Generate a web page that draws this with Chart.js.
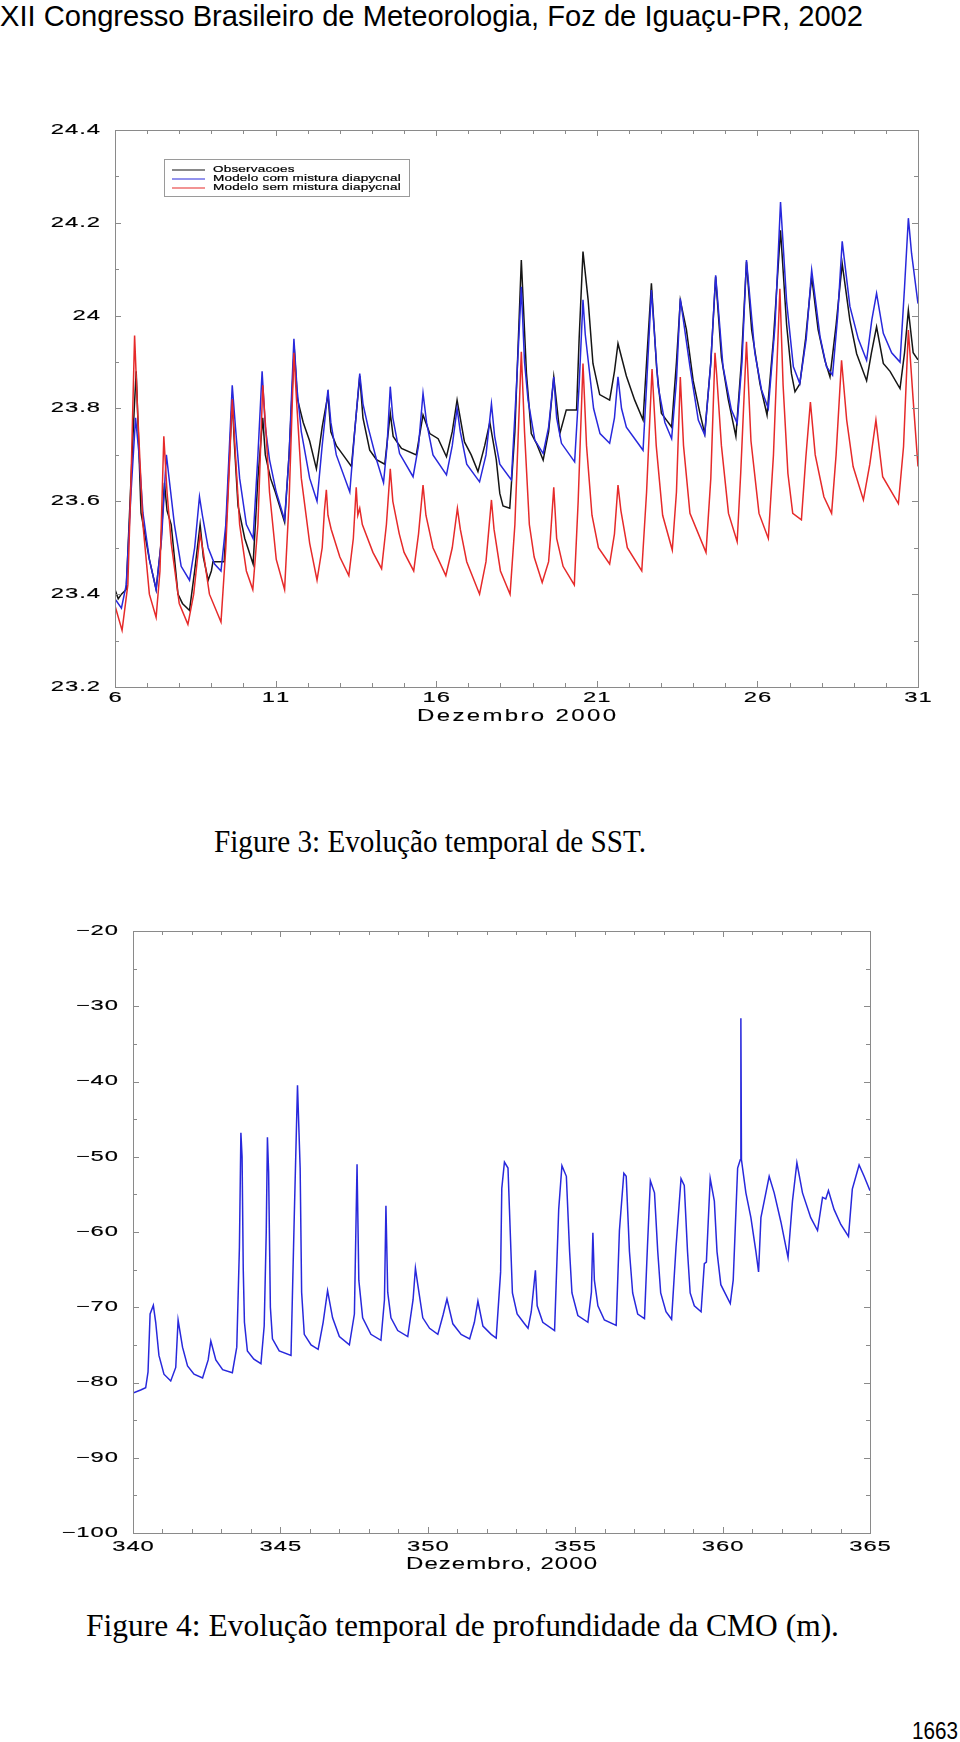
<!DOCTYPE html>
<html>
<head>
<meta charset="utf-8">
<script src="https://cdn.jsdelivr.net/npm/chart.js@4.4.0/dist/chart.umd.min.js"></script>
<style>
html, body { margin: 0; padding: 0; background: #fff; }
body { width: 960px; height: 1742px; position: relative; overflow: hidden; }
.txt { position: absolute; white-space: nowrap; line-height: 1; transform-origin: 0 0; color: #000; }
.sans { font-family: "Liberation Sans", Arial, sans-serif; }
.serif { font-family: "Liberation Serif", "Times New Roman", serif; }
canvas { position: absolute; left: 0; }
</style>
</head>
<body>
<div class="txt sans" style="left:0;top:2px;font-size:29px" data-w="863">XII Congresso Brasileiro de Meteorologia, Foz de Iguaçu-PR, 2002</div>
<canvas id="sstChart" width="960" height="650" style="top:100px"></canvas>
<div class="txt serif" style="left:214px;top:826px;font-size:31px" data-w="432">Figure 3: Evolução temporal de SST.</div>
<canvas id="cmoChart" width="960" height="700" style="top:900px"></canvas>
<div class="txt serif" style="left:86px;top:1610px;font-size:31px" data-w="753">Figure 4: Evolução temporal de profundidade da CMO (m).</div>
<div class="txt sans" style="left:912px;top:1719px;font-size:24px" data-w="46">1663</div>

<script>
// ---- Figure 3: SST (days of December 2000) ----
const sstLabels = ['Observacoes', 'Modelo com mistura diapycnal', 'Modelo sem mistura diapycnal'];

const obsDays = [
  6.00, 6.10, 6.20, 6.35, 6.50, 6.60, 6.66, 6.72, 6.81, 7.07,
  7.28, 7.42, 7.54, 7.62, 7.75, 7.96, 8.10, 8.32, 8.48, 8.65,
  8.75, 8.90, 9.00, 9.05, 9.40, 9.50, 9.65, 9.72, 9.83, 10.04,
  10.30, 10.45, 10.60, 10.68, 10.84, 10.99, 11.28, 11.42, 11.58, 11.68,
  11.86, 12.06, 12.27, 12.45, 12.63, 12.72, 12.89, 13.10, 13.36, 13.50,
  13.62, 13.72, 13.93, 14.14, 14.40, 14.57, 14.66, 14.92, 15.38, 15.59,
  15.80, 16.06, 16.32, 16.50, 16.65, 16.88, 17.09, 17.30, 17.51, 17.67,
  17.87, 17.98, 18.08, 18.29, 18.45, 18.65, 18.81, 18.96, 19.12, 19.33,
  19.50, 19.66, 19.85, 20.05, 20.37, 20.45, 20.57, 20.73, 20.88, 21.09,
  21.40, 21.55, 21.66, 21.92, 22.18, 22.44, 22.55, 22.70, 22.86, 23.01,
  23.17, 23.33, 23.48, 23.60, 23.79, 24.00, 24.21, 24.36, 24.55, 24.70,
  24.88, 25.09, 25.33, 25.50, 25.66, 25.82, 26.08, 26.30, 26.50, 26.72,
  26.91, 27.06, 27.17, 27.32, 27.50, 27.69, 27.89, 28.10, 28.26, 28.45,
  28.64, 28.88, 29.09, 29.40, 29.55, 29.71, 29.92, 30.13, 30.44, 30.58,
  30.70, 30.85, 31.00
];
const obsSST = [
  23.41, 23.39, 23.40, 23.41, 23.65, 23.80, 23.88, 23.76, 23.575, 23.475,
  23.41, 23.50, 23.64, 23.58, 23.55, 23.40, 23.38, 23.365, 23.45, 23.55,
  23.48, 23.43, 23.45, 23.47, 23.47, 23.60, 23.82, 23.72, 23.59, 23.52,
  23.465, 23.65, 23.78, 23.70, 23.65, 23.62, 23.555, 23.70, 23.93, 23.82,
  23.77, 23.73, 23.67, 23.76, 23.83, 23.75, 23.72, 23.70, 23.675, 23.78,
  23.87, 23.78, 23.71, 23.69, 23.68, 23.79, 23.74, 23.714, 23.70, 23.786,
  23.746, 23.735, 23.696, 23.75, 23.818, 23.728, 23.70, 23.664, 23.72, 23.77,
  23.69, 23.617, 23.59, 23.585, 23.75, 24.12, 23.876, 23.746, 23.725, 23.689,
  23.75, 23.868, 23.746, 23.797, 23.797, 23.95, 24.138, 24.034, 23.897, 23.83,
  23.818, 23.88, 23.94, 23.87, 23.818, 23.775, 23.90, 24.07, 23.89, 23.79,
  23.775, 23.76, 23.90, 24.033, 23.97, 23.86, 23.79, 23.746, 23.90, 24.084,
  23.91, 23.82, 23.74, 23.90, 24.116, 23.97, 23.853, 23.786, 23.95, 24.184,
  23.98, 23.875, 23.836, 23.853, 23.95, 24.084, 23.97, 23.904, 23.868, 23.98,
  24.112, 23.99, 23.918, 23.86, 23.92, 23.976, 23.897, 23.88, 23.843, 23.92,
  24.012, 23.92, 23.905
];

const comDays = [
  6.00, 6.20, 6.35, 6.50, 6.64, 6.75, 6.87, 7.07, 7.28, 7.45,
  7.60, 7.70, 7.85, 8.06, 8.32, 8.48, 8.63, 8.72, 8.90, 9.10,
  9.30, 9.45, 9.65, 9.75, 9.88, 10.09, 10.30, 10.45, 10.58, 10.68,
  10.81, 11.02, 11.28, 11.42, 11.57, 11.67, 11.80, 12.06, 12.29, 12.45,
  12.63, 12.72, 12.89, 13.31, 13.45, 13.62, 13.72, 13.88, 14.14, 14.36,
  14.47, 14.57, 14.65, 14.86, 15.28, 15.45, 15.59, 15.70, 15.90, 16.32,
  16.50, 16.65, 16.75, 16.95, 17.35, 17.55, 17.72, 17.82, 17.98, 18.34,
  18.50, 18.65, 18.75, 18.86, 19.07, 19.33, 19.50, 19.66, 19.75, 19.90,
  20.31, 20.45, 20.57, 20.64, 20.90, 21.10, 21.40, 21.55, 21.66, 21.77,
  21.92, 22.44, 22.55, 22.70, 22.91, 23.12, 23.33, 23.48, 23.60, 23.90,
  24.16, 24.36, 24.55, 24.70, 24.93, 25.19, 25.37, 25.52, 25.66, 25.92,
  26.13, 26.34, 26.55, 26.72, 26.91, 27.12, 27.32, 27.52, 27.69, 27.95,
  28.15, 28.34, 28.50, 28.64, 28.88, 29.14, 29.40, 29.56, 29.71, 29.92,
  30.18, 30.44, 30.58, 30.70, 30.80, 31.00
];
const comSST = [
  23.39, 23.37, 23.42, 23.62, 23.78, 23.70, 23.575, 23.475, 23.41, 23.52,
  23.70, 23.64, 23.55, 23.46, 23.43, 23.50, 23.61, 23.57, 23.50, 23.465,
  23.45, 23.55, 23.85, 23.76, 23.65, 23.55, 23.52, 23.70, 23.88, 23.76,
  23.69, 23.62, 23.56, 23.70, 23.95, 23.84, 23.75, 23.65, 23.60, 23.72,
  23.84, 23.77, 23.70, 23.62, 23.74, 23.875, 23.81, 23.76, 23.69, 23.64,
  23.72, 23.847, 23.78, 23.703, 23.653, 23.72, 23.833, 23.77, 23.70, 23.657,
  23.72, 23.80, 23.75, 23.68, 23.642, 23.70, 23.81, 23.74, 23.68, 23.646,
  23.85, 24.062, 23.90, 23.818, 23.732, 23.703, 23.76, 23.868, 23.78, 23.725,
  23.685, 23.85, 24.034, 23.96, 23.80, 23.746, 23.725, 23.78, 23.868, 23.80,
  23.76, 23.71, 23.85, 24.055, 23.847, 23.77, 23.735, 23.86, 24.037, 23.89,
  23.775, 23.743, 23.90, 24.087, 23.89, 23.797, 23.768, 23.90, 24.12, 23.92,
  23.84, 23.80, 23.98, 24.245, 24.03, 23.89, 23.854, 23.95, 24.098, 23.955,
  23.89, 23.872, 24.00, 24.16, 24.02, 23.95, 23.904, 23.99, 24.048, 23.962,
  23.92, 23.90, 24.06, 24.21, 24.134, 24.026
];

const semDays = [
  6.00, 6.22, 6.40, 6.50, 6.61, 6.70, 6.87, 7.07, 7.28, 7.40,
  7.52, 7.62, 7.75, 8.00, 8.27, 8.45, 8.65, 8.75, 8.94, 9.30,
  9.45, 9.65, 9.75, 9.88, 10.09, 10.29, 10.45, 10.60, 10.70, 10.81,
  11.02, 11.28, 11.42, 11.57, 11.65, 11.80, 12.06, 12.29, 12.45, 12.52,
  12.58, 12.63, 12.73, 13.00, 13.28, 13.42, 13.51, 13.56, 13.62, 13.70,
  14.03, 14.30, 14.45, 14.57, 14.65, 14.85, 15.00, 15.30, 15.45, 15.59,
  15.68, 15.90, 16.30, 16.50, 16.66, 16.75, 16.95, 17.35, 17.55, 17.72,
  17.80, 18.00, 18.30, 18.45, 18.65, 18.75, 18.90, 19.05, 19.30, 19.50,
  19.55, 19.66, 19.75, 19.95, 20.30, 20.42, 20.57, 20.68, 20.85, 21.05,
  21.40, 21.55, 21.66, 21.75, 21.95, 22.40, 22.55, 22.72, 22.85, 23.05,
  23.35, 23.48, 23.60, 23.70, 23.90, 24.40, 24.55, 24.68, 24.73, 24.88,
  25.10, 25.37, 25.48, 25.66, 25.80, 26.05, 26.34, 26.50, 26.70, 26.80,
  26.95, 27.10, 27.37, 27.51, 27.65, 27.80, 28.07, 28.31, 28.45, 28.62,
  28.78, 28.98, 29.30, 29.50, 29.69, 29.90, 30.39, 30.55, 30.70, 30.85,
  31.00
];
const semSST = [
  23.375, 23.322, 23.42, 23.65, 23.957, 23.80, 23.55, 23.40, 23.35, 23.45,
  23.74, 23.62, 23.51, 23.38, 23.335, 23.40, 23.53, 23.49, 23.40, 23.34,
  23.50, 23.82, 23.70, 23.55, 23.45, 23.41, 23.55, 23.85, 23.75, 23.62,
  23.475, 23.41, 23.60, 23.92, 23.82, 23.65, 23.51, 23.43, 23.50, 23.58,
  23.625, 23.57, 23.54, 23.48, 23.44, 23.52, 23.63, 23.57, 23.585, 23.55,
  23.49, 23.455, 23.55, 23.67, 23.60, 23.53, 23.49, 23.45, 23.53, 23.635,
  23.57, 23.50, 23.44, 23.50, 23.585, 23.54, 23.47, 23.40, 23.47, 23.603,
  23.54, 23.45, 23.40, 23.55, 23.922, 23.75, 23.55, 23.48, 23.425, 23.47,
  23.516, 23.63, 23.52, 23.46, 23.42, 23.60, 23.897, 23.72, 23.57, 23.50,
  23.465, 23.53, 23.635, 23.58, 23.50, 23.45, 23.62, 23.885, 23.72, 23.57,
  23.495, 23.62, 23.868, 23.72, 23.574, 23.49, 23.65, 23.92, 23.875, 23.72,
  23.574, 23.513, 23.66, 23.944, 23.73, 23.574, 23.52, 23.70, 24.058, 23.85,
  23.66, 23.574, 23.56, 23.696, 23.814, 23.70, 23.61, 23.574, 23.70, 23.904,
  23.775, 23.675, 23.603, 23.68, 23.775, 23.653, 23.595, 23.718, 23.969, 23.818,
  23.675
];

const sstYTicks = [23.2, 23.4, 23.6, 23.8, 24, 24.2, 24.4];
const sstYTickLabels = ['23.2', '23.4', '23.6', '23.8', '24', '24.2', '24.4'];
const sstXTicks = [6, 11, 16, 21, 26, 31];
const sstXTickLabels = ['6', '11', '16', '21', '26', '31'];

// ---- Figure 4: mixed layer depth (day of year 2000) ----
const cmoDays = [
  340.00, 340.26, 340.43, 340.51, 340.58, 340.69, 340.77, 340.88, 341.05, 341.28,
  341.45, 341.53, 341.68, 341.85, 342.07, 342.36, 342.55, 342.64, 342.81, 343.04,
  343.37, 343.52, 343.61, 343.66, 343.70, 343.74, 343.78, 343.88, 344.10, 344.34,
  344.45, 344.52, 344.56, 344.60, 344.66, 344.73, 344.96, 345.36, 345.47, 345.58,
  345.67, 345.72, 345.81, 346.04, 346.28, 346.45, 346.60, 346.77, 347.00, 347.34,
  347.51, 347.60, 347.66, 347.79, 348.07, 348.41, 348.53, 348.58, 348.64, 348.75,
  348.98, 349.32, 349.50, 349.58, 349.66, 349.83, 350.06, 350.34, 350.52, 350.65,
  350.85, 351.13, 351.42, 351.58, 351.70, 351.87, 352.15, 352.32, 352.47, 352.51,
  352.60, 352.72, 352.77, 352.87, 353.03, 353.28, 353.40, 353.51, 353.65, 353.71,
  353.90, 354.30, 354.44, 354.55, 354.70, 354.81, 354.89, 355.09, 355.43, 355.55,
  355.60, 355.65, 355.77, 355.99, 356.39, 356.50, 356.65, 356.73, 356.84, 356.95,
  357.12, 357.35, 357.45, 357.55, 357.69, 357.80, 357.90, 358.08, 358.27, 358.42,
  358.59, 358.70, 358.81, 358.90, 359.04, 359.27, 359.38, 359.45, 359.58, 359.72,
  359.81, 359.94, 360.26, 360.36, 360.51, 360.60, 360.62, 360.64, 360.79, 360.96,
  361.13, 361.22, 361.30, 361.58, 361.75, 361.98, 362.22, 362.37, 362.52, 362.71,
  362.99, 363.22, 363.39, 363.50, 363.59, 363.78, 364.01, 364.27, 364.40, 364.63,
  364.80, 365.00
];
const cmoDepth = [
  -81.4, -81.0, -80.7, -78.6, -70.9, -69.75, -72.0, -76.4, -78.9, -79.8,
  -78.0, -71.7, -75.3, -77.8, -78.9, -79.4, -77.0, -74.5, -77.0, -78.3,
  -78.7, -75.3, -62.0, -46.8, -50.0, -65.0, -72.0, -75.8, -76.9, -77.5,
  -72.5, -60.0, -47.4, -52.0, -70.0, -74.2, -75.8, -76.4, -58.0, -40.5,
  -51.5, -68.0, -73.6, -75.0, -75.6, -72.0, -67.8, -71.4, -73.9, -75.0,
  -70.9, -51.0, -66.4, -71.4, -73.6, -74.4, -69.0, -56.5, -68.0, -71.4,
  -73.1, -73.9, -69.0, -64.8, -67.0, -71.4, -72.8, -73.6, -71.0, -68.9,
  -72.2, -73.6, -74.2, -72.0, -69.2, -72.5, -73.6, -74.1, -65.3, -54.2,
  -50.7, -51.5, -57.0, -68.1, -70.9, -72.2, -72.8, -70.6, -65.1, -69.8,
  -72.0, -73.1, -57.0, -51.2, -52.6, -62.6, -68.1, -71.1, -72.0, -68.0,
  -60.1, -66.4, -69.8, -71.7, -72.4, -59.8, -52.2, -52.6, -62.6, -68.1,
  -70.9, -71.5, -62.0, -53.2, -54.8, -62.6, -68.1, -70.6, -71.6, -62.0,
  -52.9, -53.8, -62.6, -68.1, -69.8, -70.6, -64.2, -64.0, -52.9, -55.9,
  -62.6, -67.0, -69.5, -66.4, -51.5, -50.4, -31.6, -50.4, -54.8, -58.1,
  -62.6, -65.3, -58.1, -52.6, -54.8, -58.7, -63.4, -55.9, -50.8, -54.8,
  -58.1, -59.8, -55.4, -55.6, -54.5, -57.0, -59.0, -60.6, -54.3, -51.1,
  -52.6, -54.5
];

const cmoYTicks = [-100, -90, -80, -70, -60, -50, -40, -30, -20];
const cmoYTickLabels = ['\u2212100', '\u221290', '\u221280', '\u221270', '\u221260', '\u221250', '\u221240', '\u221230', '\u221220'];
const cmoXTicks = [340, 345, 350, 355, 360, 365];
const cmoXTickLabels = ['340', '345', '350', '355', '360', '365'];

function toPoints(xs, ys) {
  const n = Math.min(xs.length, ys.length);
  const pts = [];
  for (let i = 0; i < n; i++) pts.push({ x: xs[i], y: ys[i] });
  return pts;
}

function range(from, to, step) {
  const out = [];
  for (let v = from; v <= to + step / 1000; v += step) out.push(Math.round(v * 1000) / 1000);
  return out;
}

// stretched plot-package style lettering
function drawStretched(ctx, text, x, y, o) {
  ctx.save();
  ctx.font = o.size + 'px "Liberation Sans", Arial, sans-serif';
  ctx.textBaseline = 'middle';
  ctx.textAlign = 'left';
  ctx.fillStyle = '#000';
  ctx.strokeStyle = '#000';
  ctx.lineWidth = o.bold || 0;
  const chars = Array.from(text);
  let glyphs = 0;
  chars.forEach(ch => { glyphs += ctx.measureText(ch).width * o.sx; });
  const gap = o.width ? (o.width - glyphs) / Math.max(1, chars.length - 1) : (o.gap || 0);
  const w = glyphs + gap * (chars.length - 1);
  let cx = o.align === 'right' ? x - w : o.align === 'center' ? x - w / 2 : x;
  chars.forEach(ch => {
    ctx.save();
    ctx.translate(cx, y);
    ctx.scale(o.sx, 1);
    ctx.fillText(ch, 0, 0);
    if (o.bold) ctx.strokeText(ch, 0, 0);
    ctx.restore();
    cx += ctx.measureText(ch).width * o.sx + gap;
  });
  ctx.restore();
}

// frame, inward ticks, tick labels, axis title and legend
function framePlugin(cfg) {
  return {
    id: 'frame_' + cfg.name,
    afterDatasetsDraw(chart) {
      const { ctx, chartArea: a, scales } = chart;
      const xs = scales.x, ys = scales.y;
      ctx.save();
      ctx.strokeStyle = '#8a8a8a';
      ctx.lineWidth = 1;
      ctx.strokeRect(Math.round(a.left) + 0.5, Math.round(a.top) + 0.5,
        Math.round(a.right - a.left), Math.round(a.bottom - a.top));
      ctx.beginPath();
      const tickX = (vals, len) => vals.forEach(v => {
        const px = Math.round(xs.getPixelForValue(v)) + 0.5;
        ctx.moveTo(px, a.bottom); ctx.lineTo(px, a.bottom - len);
        ctx.moveTo(px, a.top); ctx.lineTo(px, a.top + len);
      });
      const tickY = (vals, len) => vals.forEach(v => {
        const py = Math.round(ys.getPixelForValue(v)) + 0.5;
        ctx.moveTo(a.left, py); ctx.lineTo(a.left + len, py);
        ctx.moveTo(a.right, py); ctx.lineTo(a.right - len, py);
      });
      tickX(cfg.xMinor, 4); tickX(cfg.xTicks, 6);
      tickY(cfg.yMinor, 4); tickY(cfg.yTicks, 6);
      ctx.stroke();
      ctx.restore();

      const lab = { size: 14, sx: 1.7, gap: 1, bold: 0.15 };
      cfg.yTicks.forEach((v, i) => drawStretched(ctx, cfg.yLabels[i], a.left - 15, ys.getPixelForValue(v),
        Object.assign({ align: 'right' }, lab)));
      cfg.xTicks.forEach((v, i) => drawStretched(ctx, cfg.xLabels[i], xs.getPixelForValue(v), a.bottom + cfg.xLabelOffset,
        Object.assign({ align: 'center' }, lab)));
      drawStretched(ctx, cfg.xTitle, (a.left + a.right) / 2, a.bottom + cfg.xTitleOffset,
        { size: 16, sx: 1.5, width: cfg.xTitleWidth, align: 'center', bold: 0.1 });

      if (cfg.legend) {
        const L = cfg.legend;
        ctx.save();
        ctx.strokeStyle = '#9a9a9a';
        ctx.lineWidth = 1;
        ctx.strokeRect(L.x + 0.5, L.y + 0.5, L.w, L.h);
        chart.data.datasets.forEach((ds, i) => {
          const ry = L.y + 11 + i * 9;
          ctx.strokeStyle = ds.borderColor;
          ctx.lineWidth = 1.2;
          ctx.beginPath();
          ctx.moveTo(L.x + 8, ry); ctx.lineTo(L.x + 41, ry);
          ctx.stroke();
          drawStretched(ctx, ds.label, L.x + 49, ry, { size: 9, sx: 1.5, gap: 0.2, align: 'left', bold: 0.2 });
        });
        ctx.restore();
      }
    }
  };
}

const baseOptions = (pad, xmin, xmax, ymin, ymax) => ({
  responsive: false,
  animation: false,
  devicePixelRatio: 1,
  layout: { padding: pad },
  plugins: { legend: { display: false }, tooltip: { enabled: false } },
  elements: { point: { radius: 0 }, line: { tension: 0, borderWidth: 1.5 } },
  scales: {
    x: { type: 'linear', min: xmin, max: xmax, display: false },
    y: { type: 'linear', min: ymin, max: ymax, display: false }
  }
});

new Chart(document.getElementById('sstChart'), {
  type: 'line',
  data: {
    datasets: [
      { label: sstLabels[0], data: toPoints(obsDays, obsSST), borderColor: '#151515', order: 3 },
      { label: sstLabels[1], data: toPoints(comDays, comSST), borderColor: '#2828dc', order: 2 },
      { label: sstLabels[2], data: toPoints(semDays, semSST), borderColor: '#e62a2a', order: 1 }
    ]
  },
  options: baseOptions({ left: 115, right: 42, top: 30, bottom: 63 }, 6, 31, 23.2, 24.4),
  plugins: [framePlugin({
    name: 'sst',
    xTicks: sstXTicks, xLabels: sstXTickLabels, xMinor: range(6, 31, 1),
    yTicks: sstYTicks, yLabels: sstYTickLabels, yMinor: range(23.2, 24.4, 0.1),
    xLabelOffset: 11, xTitle: 'Dezembro 2000', xTitleOffset: 30, xTitleWidth: 199,
    legend: { x: 164, y: 59, w: 245, h: 37 }
  })]
});

new Chart(document.getElementById('cmoChart'), {
  type: 'line',
  data: {
    datasets: [
      { label: 'CMO', data: toPoints(cmoDays, cmoDepth), borderColor: '#2828dc' }
    ]
  },
  options: baseOptions({ left: 133, right: 90, top: 31, bottom: 67 }, 340, 365, -100, -20),
  plugins: [framePlugin({
    name: 'cmo',
    xTicks: cmoXTicks, xLabels: cmoXTickLabels, xMinor: range(340, 365, 1),
    yTicks: cmoYTicks, yLabels: cmoYTickLabels, yMinor: range(-100, -20, 5),
    xLabelOffset: 14, xTitle: 'Dezembro, 2000', xTitleOffset: 32, xTitleWidth: 191,
    legend: null
  })]
});

// squeeze page texts to the widths they take in the scanned page
document.querySelectorAll('[data-w]').forEach(el => {
  const w = el.getBoundingClientRect().width;
  if (w > 0) el.style.transform = 'scaleX(' + (Number(el.dataset.w) / w) + ')';
});
</script>
</body>
</html>
